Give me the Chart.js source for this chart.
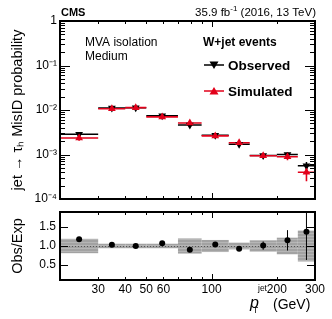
<!DOCTYPE html>
<html>
<head>
<meta charset="utf-8">
<title>jet to tau MisID probability</title>
<script src="https://cdn.jsdelivr.net/npm/chart.js@4.4.1/dist/chart.umd.min.js"></script>
<style>
    html, body { margin: 0; padding: 0; background: #ffffff; }
    #wrap { position: relative; width: 332px; height: 319px; overflow: hidden; }
    #mainCanvas { position: absolute; left: 0; top: 0; }
    #ratioCanvas { position: absolute; left: 0; top: 205px; }
</style>
</head>
<body>
<div id="wrap">
    <canvas id="mainCanvas" width="332" height="205"></canvas>
    <canvas id="ratioCanvas" width="332" height="114"></canvas>
</div>
<script>
"use strict";

// bins in jet pT (GeV)
const binLow = [20, 30, 40, 50, 70, 90, 120, 150, 200, 250];
const binHigh = [30, 40, 50, 70, 90, 120, 150, 200, 250, 300];
const binCenters = [24.5, 34.7, 44.7, 59.2, 79.4, 104, 134, 173, 224, 274];

// misID probability
const observed = [0.00284, 0.0111, 0.0113, 0.00745, 0.0046, 0.0027, 0.0017, 0.00095, 0.00100, 0.00056];
const observedErr = [0.0003, 0.0006, 0.0006, 0.0004, 0.0003, 0.0002, 0.0001, 0.00008, 0.00012, 0.00012];
const simulated = [0.00235, 0.0107, 0.0113, 0.0070, 0.0051, 0.00262, 0.00183, 0.00094, 0.00089, 0.00040];
const simulatedErr = [0.0003, 0.0004, 0.0004, 0.0003, 0.0004, 0.0002, 0.0001, 0.0001, 0.00015, 0.00015];

// ratio panel
const ratio = [1.18, 1.03, 1.0, 1.07, 0.9, 1.04, 0.93, 1.01, 1.15, 1.38];
const ratioErr = [0.03, 0.02, 0.02, 0.02, 0.03, 0.03, 0.03, 0.11, 0.27, 0.75];
const bandHalf = [0.19, 0.06, 0.06, 0.06, 0.2, 0.16, 0.09, 0.15, 0.22, 0.41];

// axis ticks
const xTickValues = [30, 40, 50, 60, 70, 80, 90, 100, 200, 300];
const xTickLabels = [30, 40, 50, 60, 100, 200, 300];
const yDecades = [0.0001, 0.001, 0.01, 0.1, 1];
const yDecadeLabels = ["10\u207B\u2074", "10\u207B\u00B3", "10\u207B\u00B2", "10\u207B\u00B9", "1"];
const ratioTicks = [0.5, 1.0, 1.5];

const FONT = "'Liberation Sans', Arial, Helvetica, sans-serif";
const RED = "#e2001a";

function buildLogTicks() {

    const ticks = [];

    for (let i = 0; i < yDecades.length; i++) {

        ticks.push({ value: yDecades[i], major: true });

        if (i < yDecades.length - 1) {
            for (let m = 2; m <= 9; m++) {
                ticks.push({ value: yDecades[i] * m, major: false });
            }
        }
    }

    return ticks;
}

function isDecade(value) {

    return yDecades.findIndex(
        d => Math.abs(Math.log10(d) - Math.log10(value)) < 1e-6
    );
}

// fixed axis boxes so both panels line up
function fixWidth(scale) {

    scale.width = 60;
    scale.paddingTop = 0;
    scale.paddingBottom = 0;
}

function fixHeight(height) {

    return scale => {
        scale.height = height;
        scale.paddingLeft = 0;
        scale.paddingRight = 0;
    };
}

function drawFrameAndTicks(chart, xLen, yLenFn) {

    const ctx = chart.ctx;
    const area = chart.chartArea;
    const xs = chart.scales.x;
    const ys = chart.scales.y;

    ctx.save();
    ctx.strokeStyle = "#000";
    ctx.lineWidth = 1;

    xs.ticks.forEach(t => {
        const px = Math.round(xs.getPixelForValue(t.value)) + 0.5;
        const len = xLen(t.value);
        ctx.beginPath();
        ctx.moveTo(px, area.bottom);
        ctx.lineTo(px, area.bottom - len);
        ctx.moveTo(px, area.top);
        ctx.lineTo(px, area.top + len);
        ctx.stroke();
    });

    ys.ticks.forEach(t => {
        const py = Math.round(ys.getPixelForValue(t.value)) + 0.5;
        const len = yLenFn(t);
        ctx.beginPath();
        ctx.moveTo(area.left, py);
        ctx.lineTo(area.left + len, py);
        ctx.moveTo(area.right, py);
        ctx.lineTo(area.right - len, py);
        ctx.stroke();
    });

    ctx.lineWidth = 2;
    ctx.strokeRect(area.left, area.top, area.right - area.left, area.bottom - area.top);
    ctx.restore();
}

function xTickLength(value) {

    return value === 100 ? 6 : 3;
}

function drawBinErrors(chart, values, errors, color, width, withX) {

    const ctx = chart.ctx;
    const xs = chart.scales.x;
    const ys = chart.scales.y;
    const area = chart.chartArea;

    ctx.save();
    ctx.beginPath();
    ctx.rect(area.left, area.top, area.right - area.left, area.bottom - area.top);
    ctx.clip();
    ctx.strokeStyle = color;
    ctx.lineWidth = width;

    values.forEach((v, i) => {
        const py = ys.getPixelForValue(v);
        const pc = xs.getPixelForValue(binCenters[i]);
        ctx.beginPath();
        if (withX) {
            ctx.moveTo(xs.getPixelForValue(binLow[i]), py);
            ctx.lineTo(xs.getPixelForValue(binHigh[i]), py);
        }
        ctx.moveTo(pc, ys.getPixelForValue(v + errors[i]));
        ctx.lineTo(pc, ys.getPixelForValue(Math.max(v - errors[i], 1e-9)));
        ctx.stroke();
    });

    ctx.restore();
}

function drawMarker(ctx, x, y, color, down) {

    const s = 4.5;
    ctx.save();
    ctx.fillStyle = color;
    ctx.beginPath();
    if (down) {
        ctx.moveTo(x - s, y - s * 0.8);
        ctx.lineTo(x + s, y - s * 0.8);
        ctx.lineTo(x, y + s * 0.9);
    } else {
        ctx.moveTo(x - s, y + s * 0.8);
        ctx.lineTo(x + s, y + s * 0.8);
        ctx.lineTo(x, y - s * 0.9);
    }
    ctx.closePath();
    ctx.fill();
    ctx.restore();
}

const mainPlugin = {

    id: "mainDecor",

    beforeDatasetsDraw(chart) {

        drawBinErrors(chart, observed, observedErr, "#000", 1.5, true);
        drawBinErrors(chart, simulated, simulatedErr, RED, 1.6, true);
    },

    afterDraw(chart) {

        drawFrameAndTicks(chart, xTickLength, t => (t.major ? 10 : 5));

        const ctx = chart.ctx;
        ctx.save();
        ctx.fillStyle = "#000";
        ctx.textBaseline = "alphabetic";

        // header
        ctx.font = "bold 11px " + FONT;
        ctx.textAlign = "left";
        ctx.fillText("CMS", 61, 16);

        ctx.font = "11.5px " + FONT;
        const tail = " (2016, 13 TeV)";
        const wTail = ctx.measureText(tail).width;
        ctx.font = "8px " + FONT;
        const wSup = ctx.measureText("-1").width;
        ctx.font = "11.5px " + FONT;
        const wHead = ctx.measureText("35.9 fb").width;
        const x0 = 316 - wTail - wSup - wHead;
        ctx.fillText("35.9 fb", x0, 16);
        ctx.font = "8px " + FONT;
        ctx.fillText("-1", x0 + wHead, 11);
        ctx.font = "11.5px " + FONT;
        ctx.fillText(tail, x0 + wHead + wSup, 16);

        // labels in the frame
        ctx.font = "12px " + FONT;
        ctx.fillText("MVA isolation", 85, 46);
        ctx.fillText("Medium", 85, 60);

        // legend
        ctx.font = "bold 12px " + FONT;
        ctx.fillText("W+jet events", 203, 46);

        ctx.lineWidth = 1.5;
        ctx.strokeStyle = "#000";
        ctx.beginPath();
        ctx.moveTo(204, 65);
        ctx.lineTo(224, 65);
        ctx.stroke();
        drawMarker(ctx, 214, 65, "#000", true);

        ctx.strokeStyle = RED;
        ctx.beginPath();
        ctx.moveTo(204, 91);
        ctx.lineTo(224, 91);
        ctx.stroke();
        drawMarker(ctx, 214, 91, RED, false);

        ctx.font = "bold 13.5px " + FONT;
        ctx.fillText("Observed", 228, 70);
        ctx.fillText("Simulated", 228, 96);

        ctx.restore();
    }
};

function makeBandPattern(ctx) {

    const c = document.createElement("canvas");
    c.width = 4;
    c.height = 3;
    const p = c.getContext("2d");
    p.fillStyle = "#a2a2a2";
    p.fillRect(0, 0, 4, 3);
    p.fillStyle = "#b6b6b6";
    p.fillRect(0, 1, 4, 1);
    return ctx.createPattern(c, "repeat");
}

const ratioPlugin = {

    id: "ratioDecor",

    beforeDatasetsDraw(chart) {

        const ctx = chart.ctx;
        const xs = chart.scales.x;
        const ys = chart.scales.y;
        const area = chart.chartArea;

        ctx.save();
        ctx.fillStyle = makeBandPattern(ctx);
        bandHalf.forEach((h, i) => {
            const x1 = xs.getPixelForValue(binLow[i]);
            const x2 = xs.getPixelForValue(binHigh[i]);
            const y1 = ys.getPixelForValue(1 + h);
            const y2 = ys.getPixelForValue(1 - h);
            ctx.fillRect(x1, y1, x2 - x1, y2 - y1);
        });

        const y1 = Math.round(ys.getPixelForValue(1)) + 0.5;
        ctx.strokeStyle = "#555";
        ctx.lineWidth = 1;
        ctx.setLineDash([1, 2]);
        ctx.beginPath();
        ctx.moveTo(area.left, y1);
        ctx.lineTo(area.right, y1);
        ctx.stroke();
        ctx.restore();

        drawBinErrors(chart, ratio, ratioErr, "#000", 1, false);
    },

    afterDraw(chart) {

        drawFrameAndTicks(chart, xTickLength, () => 8);

        // x axis title: p_T^jet (GeV)
        const ctx = chart.ctx;
        ctx.save();
        ctx.fillStyle = "#000";
        ctx.textAlign = "left";
        ctx.font = "italic 16px " + FONT;
        ctx.fillText("p", 250, 103);
        ctx.font = "8.5px " + FONT;
        ctx.fillText("T", 253, 108);
        ctx.fillText("jet", 258, 86);
        ctx.font = "14px " + FONT;
        ctx.fillText("(GeV)", 273, 104);
        ctx.restore();
    }
};

const MainChart = {

    initialize() {

        const canvas = document.getElementById("mainCanvas");

        new Chart(canvas, {
            type: "scatter",
            data: {
                datasets: [
                    {
                        label: "Observed",
                        data: binCenters.map((x, i) => ({ x, y: observed[i] })),
                        pointStyle: "triangle",
                        rotation: 180,
                        pointRadius: 4.5,
                        backgroundColor: "#000",
                        borderColor: "#000",
                        borderWidth: 0,
                        order: 2
                    },
                    {
                        label: "Simulated",
                        data: binCenters.map((x, i) => ({ x, y: simulated[i] })),
                        pointStyle: "triangle",
                        pointRadius: 4.5,
                        backgroundColor: RED,
                        borderColor: RED,
                        borderWidth: 0,
                        order: 1
                    }
                ]
            },
            options: {
                responsive: false,
                animation: false,
                devicePixelRatio: 1,
                layout: { padding: { left: 0, right: 17, top: 21, bottom: 0 } },
                plugins: {
                    legend: { display: false },
                    tooltip: { enabled: false }
                },
                scales: {
                    x: {
                        type: "logarithmic",
                        min: 20,
                        max: 300,
                        afterBuildTicks: s => { s.ticks = xTickValues.map(v => ({ value: v })); },
                        afterFit: fixHeight(6),
                        ticks: { display: false },
                        grid: { display: false, drawTicks: false },
                        border: { display: false }
                    },
                    y: {
                        type: "logarithmic",
                        min: 0.0001,
                        max: 1,
                        afterBuildTicks: s => { s.ticks = buildLogTicks(); },
                        afterFit: fixWidth,
                        ticks: {
                            autoSkip: false,
                            padding: 3,
                            color: "#000",
                            font: { family: FONT, size: 12 },
                            callback: v => {
                                const k = isDecade(v);
                                return k >= 0 ? yDecadeLabels[k] : "";
                            }
                        },
                        grid: { display: false, drawTicks: false },
                        border: { display: false },
                        title: {
                            display: true,
                            text: "jet \u2192 \u03C4\u2095 MisID probability",
                            color: "#000",
                            font: { family: FONT, size: 14.5 },
                            padding: { top: 9, bottom: 0 }
                        }
                    }
                }
            },
            plugins: [mainPlugin]
        });
    }
};

const RatioChart = {

    initialize() {

        const canvas = document.getElementById("ratioCanvas");

        new Chart(canvas, {
            type: "scatter",
            data: {
                datasets: [
                    {
                        label: "Obs/Exp",
                        data: binCenters.map((x, i) => ({ x, y: ratio[i] })),
                        pointStyle: "circle",
                        pointRadius: 3,
                        backgroundColor: "#000",
                        borderColor: "#000",
                        borderWidth: 0
                    }
                ]
            },
            options: {
                responsive: false,
                animation: false,
                devicePixelRatio: 1,
                layout: { padding: { left: 0, right: 17, top: 7, bottom: 0 } },
                plugins: {
                    legend: { display: false },
                    tooltip: { enabled: false }
                },
                scales: {
                    x: {
                        type: "logarithmic",
                        min: 20,
                        max: 300,
                        afterBuildTicks: s => { s.ticks = xTickValues.map(v => ({ value: v })); },
                        afterFit: fixHeight(39),
                        ticks: {
                            autoSkip: false,
                            maxRotation: 0,
                            padding: 2,
                            color: "#000",
                            font: { family: FONT, size: 12 },
                            callback: v => (xTickLabels.includes(v) ? String(v) : "")
                        },
                        grid: { display: false, drawTicks: false },
                        border: { display: false }
                    },
                    y: {
                        type: "linear",
                        min: 0.1,
                        max: 1.9,
                        afterBuildTicks: s => { s.ticks = ratioTicks.map(v => ({ value: v })); },
                        afterFit: fixWidth,
                        ticks: {
                            autoSkip: false,
                            padding: 4,
                            color: "#000",
                            font: { family: FONT, size: 12 },
                            callback: v => v.toFixed(1)
                        },
                        grid: { display: false, drawTicks: false },
                        border: { display: false },
                        title: {
                            display: true,
                            text: "Obs/Exp",
                            color: "#000",
                            font: { family: FONT, size: 14.5 },
                            padding: { top: 9, bottom: 0 }
                        }
                    }
                }
            },
            plugins: [ratioPlugin]
        });
    }
};

document.addEventListener("DOMContentLoaded", () => {

    if (typeof Chart === "undefined") {
        console.error("Chart.js not loaded.");
        return;
    }

    MainChart.initialize();
    RatioChart.initialize();
});
</script>
</body>
</html>
